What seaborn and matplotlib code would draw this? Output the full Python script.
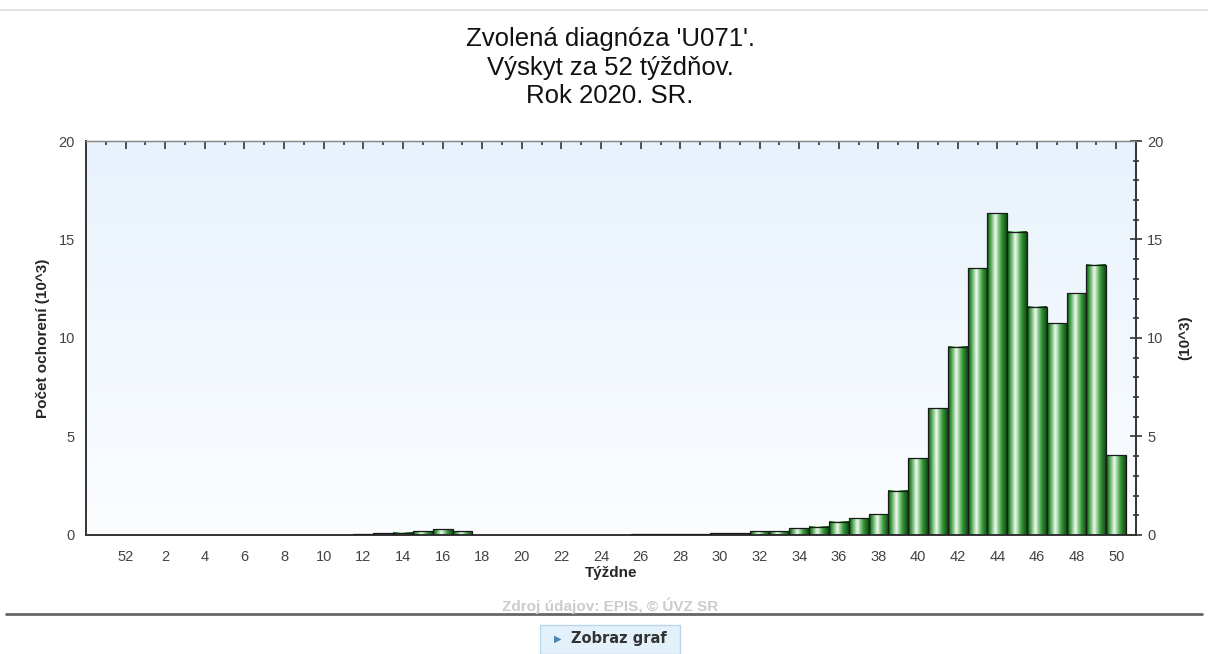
import numpy as np
import pandas as pd
import seaborn as sns
import matplotlib.pyplot as plt
from matplotlib.colors import LinearSegmentedColormap
from matplotlib.patches import FancyBboxPatch
from matplotlib.lines import Line2D

# weeks 51, 52 of 2019 followed by weeks 1..50 of 2020
weeks = [51, 52] + list(range(1, 51))
cases = [
    0, 0,                                        # 51, 52
    0, 0, 0, 0, 0, 0, 0, 0, 0, 0,                # 1-10
    0, 0.04, 0.08, 0.12, 0.20, 0.30, 0.18,       # 11-17
    0, 0, 0, 0, 0, 0, 0, 0,                      # 18-25
    0.04, 0.04, 0.04, 0.05, 0.10, 0.10, 0.18, 0.20,   # 26-33
    0.34, 0.42, 0.68, 0.85, 1.05, 2.25, 3.90,    # 34-40
    6.43, 9.56, 13.54, 16.33, 15.40, 11.59,      # 41-46
    10.75, 12.27, 13.71, 4.06,                   # 47-50
]
title_lines = ["Zvolená diagnóza 'U071'.", "Výskyt za 52 týždňov.", "Rok 2020. SR."]

df = pd.DataFrame({"week": [str(w) for w in weeks], "cases": cases})

sns.set_style("white")
plt.rcParams["font.family"] = ["Liberation Sans", "DejaVu Sans"]

fig = plt.figure(figsize=(12.08, 6.54), dpi=100)
ax = fig.add_axes([0.0712, 0.182, 0.8692, 0.6024])

sns.barplot(data=df, x="week", y="cases", order=df["week"], width=1.0,
            color="white", edgecolor="#1a1a1a", linewidth=0.9, ax=ax, zorder=3)

# cylinder-like gradient inside each bar
bar_cmap = LinearSegmentedColormap.from_list(
    "bar", [(0.0, "#15551a"), (0.12, "#2f8f32"), (0.42, "#eefbee"),
            (0.72, "#3a9c3c"), (1.0, "#0f4a12")])
grad = np.linspace(0, 1, 64).reshape(1, -1)
for p in ax.patches:
    h = p.get_height()
    if h <= 0:
        p.set_linewidth(0)
        continue
    x0 = p.get_x()
    ax.imshow(grad, extent=[x0, x0 + p.get_width(), 0, h], aspect="auto",
              cmap=bar_cmap, zorder=2, interpolation="bilinear")
    p.set_facecolor("none")

# light blue background gradient
bg_cmap = LinearSegmentedColormap.from_list("bg", ["#fbfdff", "#e8f2fc"])
ax.imshow(np.linspace(0, 1, 64).reshape(-1, 1), extent=[0, 1, 0, 1],
          transform=ax.transAxes, aspect="auto", cmap=bg_cmap, origin="lower",
          zorder=0)

ax.set_xlim(-1, len(weeks))
ax.set_ylim(0, 20)

# x ticks: every week minor, label every second week
major_x = list(range(1, len(weeks), 2))
minor_x = list(range(0, len(weeks)))
ax.set_xticks(major_x)
ax.set_xticklabels([str(w) for w in weeks[1::2]])
ax.set_xticks(minor_x, minor=True)
ax.set_yticks([0, 5, 10, 15, 20])
ax.set_yticks(np.arange(0, 21, 1), minor=True)

ax.tick_params(axis="both", which="major", labelsize=10.5, labelcolor="#444444",
               color="#333333", width=1.2)
ax.tick_params(axis="x", which="major", direction="inout", length=9, pad=6)
ax.tick_params(axis="x", which="minor", direction="inout", length=5,
               color="#333333", width=1.2)
ax.tick_params(axis="y", which="major", direction="inout", length=9,
               right=True, labelright=True)
ax.tick_params(axis="y", which="minor", direction="inout", length=5,
               color="#333333", width=1.2, right=True)

# top ticks point down into the plot
top = ax.secondary_xaxis("top")
top.set_xticks(major_x)
top.set_xticks(minor_x, minor=True)
top.tick_params(which="major", direction="in", length=6, width=1.2,
                color="#333333", labeltop=False)
top.tick_params(which="minor", direction="in", length=3, width=1.2,
                color="#333333")
top.spines["top"].set_color("#888888")

for s in ["left", "bottom", "right"]:
    ax.spines[s].set_color("#333333")
    ax.spines[s].set_linewidth(1.4)
ax.spines["top"].set_color("#888888")
ax.spines["top"].set_linewidth(1.0)

ax.set_xlabel("Týždne", fontsize=11, fontweight="bold", labelpad=2)
ax.set_ylabel("Počet ochorení (10^3)", fontsize=11, fontweight="bold",
              labelpad=6)
ax.text(1.047, 0.5, "(10^3)", transform=ax.transAxes, rotation=90,
        fontsize=11, fontweight="bold", ha="center", va="center")

fig.text(0.505, 0.958, "\n".join(title_lines), ha="center", va="top",
         fontsize=18.5, linespacing=1.22, color="#111111")

# page decorations
fig.add_artist(Line2D([0, 1], [0.985, 0.985], color="#dddddd", lw=1.2))
fig.add_artist(Line2D([0.005, 0.995], [0.061, 0.061], color="#666666", lw=2))
fig.text(0.505, 0.074, "Zdroj údajov: EPIS, © ÚVZ SR", ha="center",
         va="center", fontsize=11, color="#cccccc", fontweight="bold")
fig.add_artist(FancyBboxPatch((0.447, 0.0), 0.116, 0.045,
                              boxstyle="square,pad=0", transform=fig.transFigure,
                              facecolor="#e3f1fa", edgecolor="#b9d7ea", lw=1))
fig.text(0.462, 0.024, "▶", ha="center", va="center", fontsize=7,
         color="#4a86b5", family="DejaVu Sans")
fig.text(0.473, 0.024, "Zobraz graf", ha="left", va="center", fontsize=10.5,
         color="#333333", fontweight="bold", family="DejaVu Sans")

fig.savefig("out.png", dpi=100, facecolor="white")
